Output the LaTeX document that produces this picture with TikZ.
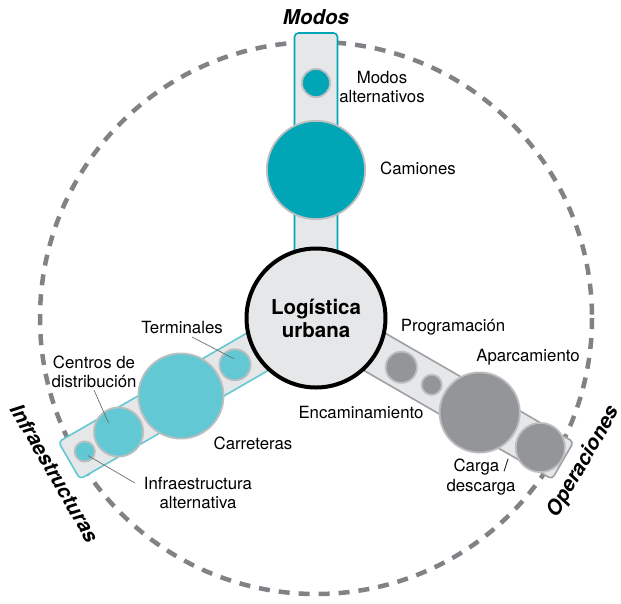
\documentclass[tikz,border=0pt]{standalone}
\usepackage{fontspec}
\setmainfont{TeX Gyre Heros}
\usetikzlibrary{calc}
\definecolor{modoteal}{HTML}{00A6B6}
\definecolor{infrateal}{HTML}{62C8D3}
\definecolor{opgray}{HTML}{939598}
\definecolor{opedge}{HTML}{9D9FA2}
\definecolor{bandfill}{HTML}{E6E7E8}
\definecolor{ringgray}{HTML}{BCBEC0}
\definecolor{dashgray}{HTML}{808285}
\definecolor{leadergray}{HTML}{6D6E71}
\begin{document}
\begin{tikzpicture}[x=1pt,y=-1pt,
  band/.style={fill=bandfill, rounded corners=4pt, line width=1.6pt},
  bub/.style={circle, draw=ringgray, line width=1.8pt, inner sep=0pt, minimum size=#1},
  lbl/.style={font=\fontsize{16.8}{19.5}\selectfont, align=center, inner sep=0pt},
  axis/.style={font=\fontsize{20.5}{24}\selectfont\bfseries\itshape, inner sep=0pt},
  hub/.style={circle, draw=black, line width=4pt, fill=bandfill, minimum size=139pt, inner sep=0pt,
    font=\fontsize{20.5}{24}\selectfont\bfseries, align=center},
  leader/.style={draw=leadergray, line width=0.7pt}]
\useasboundingbox (0,0) rectangle (621,603);
\coordinate (C) at (316,318);

% outer dashed ring
\draw[dashgray, line width=4.5pt, dash pattern=on 11pt off 9pt] (C) circle[radius=276];

% Modos arm
\begin{scope}[shift={(C)}, rotate=90]
  \draw[band, draw=modoteal] (0,-21.5) rectangle (285,21.5);
  \node[bub=98.2pt, fill=modoteal] (camiones) at (148,0) {};
  \node[bub=28.2pt, fill=modoteal] (altmodos) at (235,0) {};
\end{scope}

% Infraestructuras arm
\begin{scope}[shift={(C)}, rotate=210]
  \draw[band, draw=infrateal] (0,-21.5) rectangle (285,21.5);
  \node[bub=31.2pt, fill=infrateal] (terminales) at (93.5,0) {};
  \node[bub=85.2pt, fill=infrateal] (carreteras) at (156,0) {};
  \node[bub=49.2pt, fill=infrateal] (centros) at (228,0) {};
  \node[bub=20.2pt, fill=infrateal] (altinfra) at (267,0) {};
\end{scope}

% Operaciones arm
\begin{scope}[shift={(C)}, rotate=-30]
  \draw[band, draw=opedge] (0,-21.5) rectangle (285,21.5);
  \node[bub=31.2pt, fill=opgray] (programacion) at (98.5,0) {};
  \node[bub=20.2pt, fill=opgray] (encaminamiento) at (133.6,0) {};
  \node[bub=80.2pt, fill=opgray] (aparcamiento) at (189,0) {};
  \node[bub=49.2pt, fill=opgray] (carga) at (259,0) {};
\end{scope}

% hub
\node[hub] (hub) at (C) {Logística\\[-1pt]urbana};

% axis titles
\node[axis] (tModos) at (316,17) {Modos};
\node[axis, rotate=-60] (tInfra) at (55,473) {Infraestructuras};
\node[axis, rotate=60] (tOper) at (584,462) {Operaciones};

% labels
\node[lbl] (lAltModos) at (382,87) {Modos\\alternativos};
\node[lbl] (lCamiones) at (418,168) {Camiones};
\node[lbl] (lTerminales) at (182,327) {Terminales};
\node[lbl] (lCentros) at (94,372) {Centros de\\distribución};
\node[lbl] (lCarreteras) at (253,443) {Carreteras};
\node[lbl] (lAltInfra) at (198,493) {Infraestructura\\alternativa};
\node[lbl] (lProgramacion) at (453,327) {Programación};
\node[lbl] (lAparcamiento) at (528,357) {Aparcamiento};
\node[lbl] (lEncaminamiento) at (361,412) {Encaminamiento};
\node[lbl] (lCarga) at (481,477) {Carga /\\descarga};

% leader lines
\coordinate (aTerm) at (192,337);
\coordinate (aCent) at (94,390);
\coordinate (aAlt) at (135,483);
\draw[leader] (aTerm) -- ($(terminales)+(-1,-6)$);
\draw[leader] (aCent) -- ($(centros)+(-10,-9)$);
\draw[leader] (aAlt) -- ($(altinfra)+(3,4)$);
\end{tikzpicture}
\end{document}
